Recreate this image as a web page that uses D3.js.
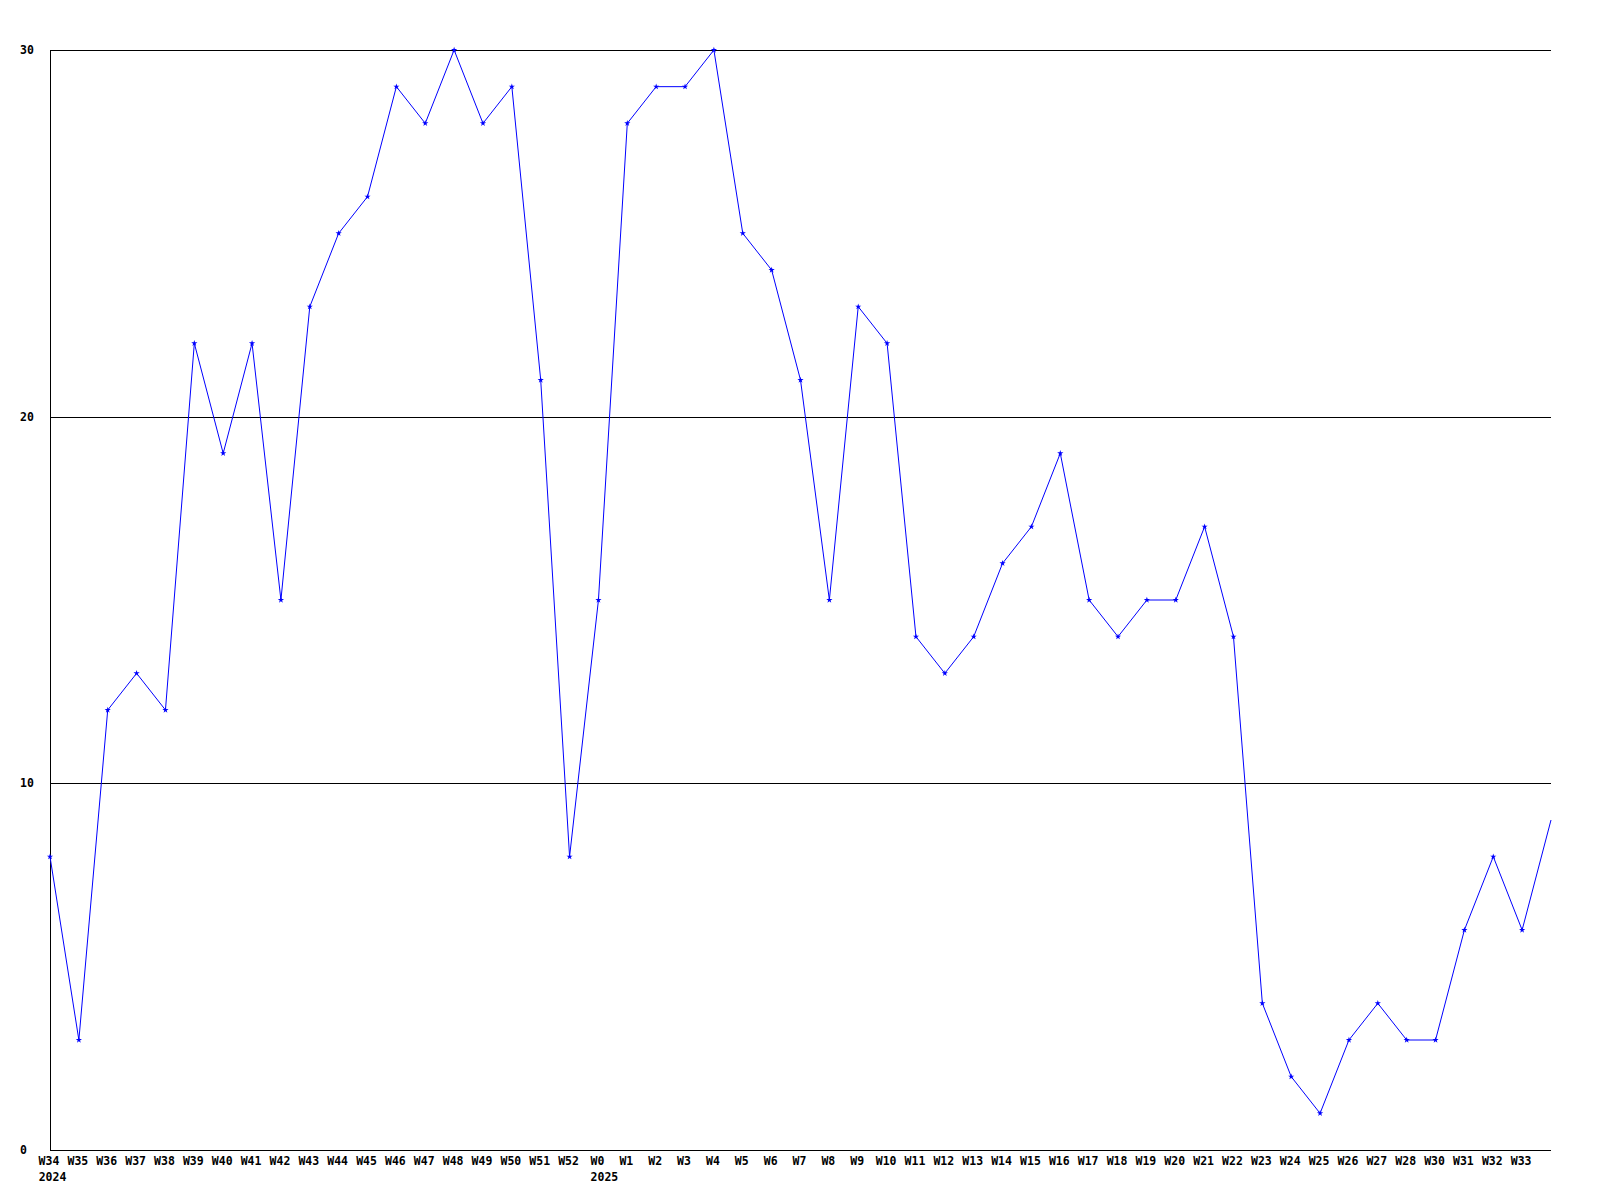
<!DOCTYPE html>
<html>
<head>
<meta charset="utf-8">
<script src="https://cdn.jsdelivr.net/npm/d3@7"></script>
<style>
  html, body { margin: 0; padding: 0; background: #fff; }
  svg { display: block; }
  text { font-family: "DejaVu Sans Mono", "Liberation Mono", monospace; font-weight: bold; font-size: 11.5px; fill: #000; }
</style>
</head>
<body>
<script>
// ---- data ----
const weekLabels = ["W34","W35","W36","W37","W38","W39","W40","W41","W42","W43","W44","W45","W46","W47","W48","W49","W50","W51","W52",
  "W0","W1","W2","W3","W4","W5","W6","W7","W8","W9","W10","W11","W12","W13","W14","W15","W16","W17","W18","W19","W20","W21","W22",
  "W23","W24","W25","W26","W27","W28","W30","W31","W32","W33",""];
const values = [8,3,12,13,12,22,19,22,15,23,25,26,29,28,30,28,29,21,8,
  15,28,29,29,30,25,24,21,15,23,22,14,13,14,16,17,19,15,14,15,15,17,14,
  4,2,1,3,4,3,3,6,8,6,9];
const yearLabels = ["2024","2025"];
const yearStartWeeks = ["W34","W0"];
const yTicks = [0,10,20,30];

// ---- layout ----
const W = 1600, H = 1200;
const mLeft = 50, mRight = 1551, mTop = 50, mBottom = 1150;

const svg = d3.select("body").append("svg").attr("width", W).attr("height", H);

const x = d3.scaleLinear().domain([0, values.length - 1]).range([mLeft, mRight]);
const y = d3.scaleLinear().domain([0, 30]).range([mBottom, mTop]);

// gridlines
svg.append("g").selectAll("line").data(yTicks.filter(d => d > 0)).join("line")
  .attr("x1", mLeft).attr("x2", mRight)
  .attr("y1", d => Math.round(y(d)) + 0.5).attr("y2", d => Math.round(y(d)) + 0.5)
  .attr("stroke", "#000").attr("stroke-width", 1).attr("shape-rendering", "crispEdges");

// y tick labels
svg.append("g").selectAll("text").data(yTicks).join("text")
  .attr("x", 20).attr("y", d => y(d) + 4)
  .text(d => d);

// axes lines
svg.append("line").attr("x1", mLeft + 0.5).attr("x2", mLeft + 0.5).attr("y1", mTop).attr("y2", mBottom + 0.5)
  .attr("stroke", "#000").attr("shape-rendering", "crispEdges");
svg.append("line").attr("x1", mLeft).attr("x2", mRight).attr("y1", mBottom + 0.5).attr("y2", mBottom + 0.5)
  .attr("stroke", "#000").attr("shape-rendering", "crispEdges");

// x labels
const idx = d3.range(values.length);
svg.append("g").selectAll("text").data(idx.filter(i => weekLabels[i])).join("text")
  .attr("x", i => x(i) - 1).attr("y", 1165).attr("text-anchor", "middle")
  .text(i => weekLabels[i]);

// year labels: left aligned with the week label
yearLabels.forEach((yr, k) => {
  const i = weekLabels.indexOf(yearStartWeeks[k]);
  const halfW = weekLabels[i].length * 6.9 / 2;
  svg.append("text").attr("x", x(i) - 1 - halfW).attr("y", 1181).text(yr);
});

// line
const line = d3.line().x((d, i) => x(i)).y(d => y(d));
svg.append("path").datum(values).attr("d", line)
  .attr("fill", "none").attr("stroke", "#0000ff").attr("stroke-width", 1);

// markers
const sym = d3.symbol().type(d3.symbolStar).size(12);
svg.append("g").selectAll("path").data(idx.filter(i => weekLabels[i])).join("path")
  .attr("transform", i => `translate(${x(i)},${y(values[i])})`)
  .attr("d", sym).attr("fill", "#0000ff");
</script>
</body>
</html>
